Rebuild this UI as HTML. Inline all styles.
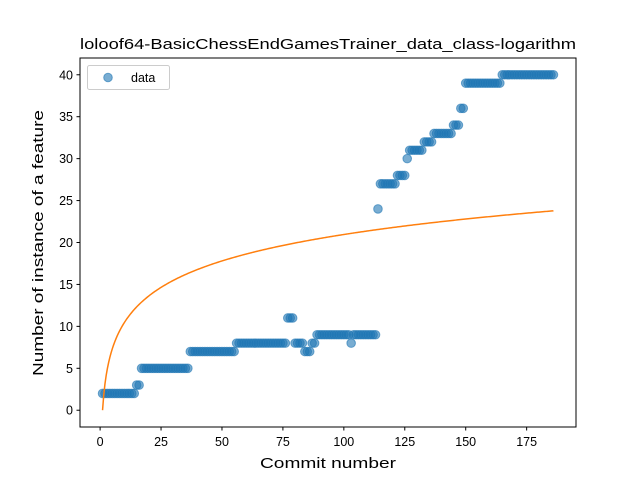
<!DOCTYPE html>
<html><head><meta charset="utf-8"><style>body{margin:0;background:#fff}svg{font-family:"Liberation Sans","DejaVu Sans",sans-serif}</style></head>
<body>
<svg id="c" width="640" height="480" xmlns="http://www.w3.org/2000/svg">
<rect width="640" height="480" fill="#fff"/>
<text x="328" y="49" font-size="15" text-anchor="middle" textLength="496" lengthAdjust="spacingAndGlyphs">loloof64-BasicChessEndGamesTrainer_data_class-logarithm</text>
<g id="plot"></g>
<text x="328" y="468" font-size="15" text-anchor="middle" textLength="136" lengthAdjust="spacingAndGlyphs">Commit number</text>
<text transform="translate(43,243) rotate(-90)" font-size="15" text-anchor="middle" textLength="266" lengthAdjust="spacingAndGlyphs">Number of instance of a feature</text>
</svg>
<script>
const segValues = [2,3,5,7,8,11,8,7,8,9,8,9,24,27,28,30,31,32,33,34,36,39,40];
const segEnds   = [14,16,36,55,76,79,83,86,88,102,103,113,114,121,125,126,132,136,144,147,149,164,186];
const xTicks = [0,25,50,75,100,125,150,175];
const yTicks = [0,5,10,15,20,25,30,35,40];
const fitA = 4.55, fitB = 0;
const L=80,R=576,T=58,B=427, xmin=-8.25,xmax=195.25,ymin=-2,ymax=42;
const sx=v=>L+(v-xmin)/(xmax-xmin)*(R-L);
const sy=v=>B-(v-ymin)/(ymax-ymin)*(B-T);
const NS="http://www.w3.org/2000/svg";
const g=document.getElementById('plot');
function mk(t,a){const e=document.createElementNS(NS,t);for(const k in a)e.setAttribute(k,a[k]);g.appendChild(e);return e;}
let start=1;
segValues.forEach((v,i)=>{for(let c=start;c<=segEnds[i];c++){
  const p=mk('circle',{cx:sx(c),cy:sy(v),r:4.3,fill:'#1f77b4','fill-opacity':0.6,stroke:'#1f77b4','stroke-opacity':0.6,'stroke-width':1});
  
  
}start=segEnds[i]+1;});
let d='';for(let x=1;x<=186;x+=0.5){d+=(x===1?'M':'L')+sx(x).toFixed(2)+','+sy(fitA*Math.log(x)+fitB).toFixed(2);}
const fl=mk('path',{d:d,fill:'none',stroke:'#ff7f0e','stroke-width':1.5});


const fr=mk('rect',{x:L,y:T,width:R-L,height:B-T,fill:'none',stroke:'#000','stroke-width':1});


xTicks.forEach(v=>{const x=sx(v);mk('line',{x1:x,x2:x,y1:B,y2:B+3.5,stroke:'#000'});
  const t=mk('text',{x:x,y:B+19,'font-size':12.5,'text-anchor':'middle'});t.textContent=v;
  
  });
yTicks.forEach(v=>{const y=sy(v);mk('line',{x1:L-3.5,x2:L,y1:y,y2:y,stroke:'#000'});
  const t=mk('text',{x:L-7,y:y+4.5,'font-size':12.5,'text-anchor':'end'});t.textContent=v;
  
  });
const lb=mk('rect',{x:87.5,y:65.5,width:82,height:24,rx:2,fill:'#fff',stroke:'#ccc'});


const lm=mk('circle',{cx:108,cy:77.5,r:4.3,fill:'#1f77b4','fill-opacity':0.6,stroke:'#1f77b4','stroke-opacity':0.6});


const lt=mk('text',{x:131,y:82,'font-size':12.5});lt.textContent='data';


</script>
</body></html>
